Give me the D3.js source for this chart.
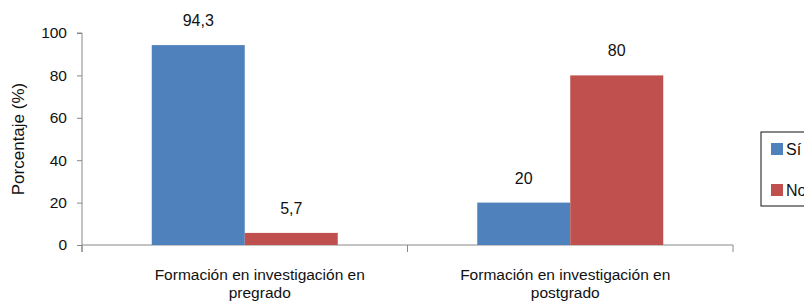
<!DOCTYPE html>
<html>
<head>
<meta charset="utf-8">
<script src="https://cdn.jsdelivr.net/npm/d3@7"></script>
<style>
  body { margin: 0; background: #fff; }
  text { font-family: "Liberation Sans", Arial, sans-serif; fill: #111; }
</style>
</head>
<body>
<div class="chart"></div>
<script>
// data
var categories = ["Formación en investigación en pregrado", "Formación en investigación en postgrado"];
var categoryLines = [["Formación en investigación en", "pregrado"], ["Formación en investigación en", "postgrado"]];
var seriesNames = ["Sí", "No"];
var siValues = [94.3, 20];
var noValues = [5.7, 80];
var yTicks = [0, 20, 40, 60, 80, 100];

var colors = ["#4F81BD", "#C0504D"];

var svgWidth = 804, svgHeight = 302;
var margin = {top: 33, right: 71, bottom: 57, left: 82};
var chartWidth = svgWidth - margin.left - margin.right;
var chartHeight = svgHeight - margin.top - margin.bottom;

var svg = d3.select(".chart").append("svg")
  .attr("width", svgWidth)
  .attr("height", svgHeight);

var chartGroup = svg.append("g")
  .attr("transform", `translate(${margin.left}, ${margin.top})`);

var x0 = d3.scaleBand().domain(categories).range([0, chartWidth]).paddingInner(0).paddingOuter(0);
var x1 = d3.scaleBand().domain(seriesNames).range([0, x0.bandwidth()]).paddingInner(0).paddingOuter(0.75);
var y = d3.scaleLinear().domain([0, 100]).range([chartHeight, 0]);

// y axis
var leftAxis = d3.axisLeft(y).tickValues(yTicks).tickSize(5).tickPadding(10);
var yAxis = chartGroup.append("g").call(leftAxis);
yAxis.selectAll("text").style("font-size", "15.5px");

// x axis with boundary ticks
chartGroup.append("line")
  .attr("x1", 0).attr("x2", chartWidth)
  .attr("y1", chartHeight).attr("y2", chartHeight)
  .attr("stroke", "#888");
var bounds = [0].concat(categories.map(c => x0(c) + x0.bandwidth()));
chartGroup.selectAll(".xtick").data(bounds).enter().append("line")
  .attr("x1", d => d).attr("x2", d => d)
  .attr("y1", chartHeight).attr("y2", chartHeight + 7)
  .attr("stroke", "#888");
yAxis.selectAll("path, line").attr("stroke", "#888");
yAxis.select(".domain").attr("d", `M-5,0H0V${chartHeight + 7}`);

// bars
var rows = categories.map((c, i) => ({cat: c, vals: [siValues[i], noValues[i]]}));
var groups = chartGroup.selectAll(".grp").data(rows).enter().append("g")
  .attr("transform", d => `translate(${x0(d.cat)},0)`);

groups.selectAll("rect").data(d => d.vals.map((v, j) => ({s: seriesNames[j], v: v, j: j})))
  .enter().append("rect")
  .attr("x", d => x1(d.s))
  .attr("y", d => y(d.v))
  .attr("width", x1.bandwidth())
  .attr("height", d => chartHeight - y(d.v))
  .attr("fill", d => colors[d.j]);

groups.selectAll(".lbl").data(d => d.vals.map((v, j) => ({s: seriesNames[j], v: v})))
  .enter().append("text")
  .attr("x", d => x1(d.s) + x1.bandwidth() / 2)
  .attr("y", d => y(d.v) - 19)
  .attr("text-anchor", "middle")
  .style("font-size", "16px")
  .text(d => String(d.v).replace(".", ","));

// category labels (the original sits them a little off the band centres)
var labelShift = [15, -5];
categories.forEach(function(c, i) {
  var cx = x0(c) + x0.bandwidth() / 2 + labelShift[i];
  var t = chartGroup.append("text")
    .attr("x", cx)
    .attr("y", chartHeight + 35)
    .attr("text-anchor", "middle")
    .style("font-size", "15.5px");
  categoryLines[i].forEach(function(line, k) {
    t.append("tspan").attr("x", cx).attr("dy", k === 0 ? 0 : 18).text(line);
  });
});

// y axis title
svg.append("text")
  .attr("transform", "rotate(-90)")
  .attr("x", -139)
  .attr("y", 24)
  .attr("text-anchor", "middle")
  .style("font-size", "17px")
  .text("Porcentaje (%)");

// legend
var legend = svg.append("g").attr("transform", "translate(761,132)");
legend.append("rect").attr("width", 60).attr("height", 74)
  .attr("fill", "#fff").attr("stroke", "#111").attr("stroke-width", 1);
seriesNames.forEach(function(s, i) {
  legend.append("rect").attr("x", 10).attr("y", 11 + i * 41).attr("width", 12).attr("height", 12)
    .attr("fill", colors[i]);
  legend.append("text").attr("x", 25).attr("y", 23 + i * 41)
    .style("font-size", "16px").text(s);
});
</script>
</body>
</html>
